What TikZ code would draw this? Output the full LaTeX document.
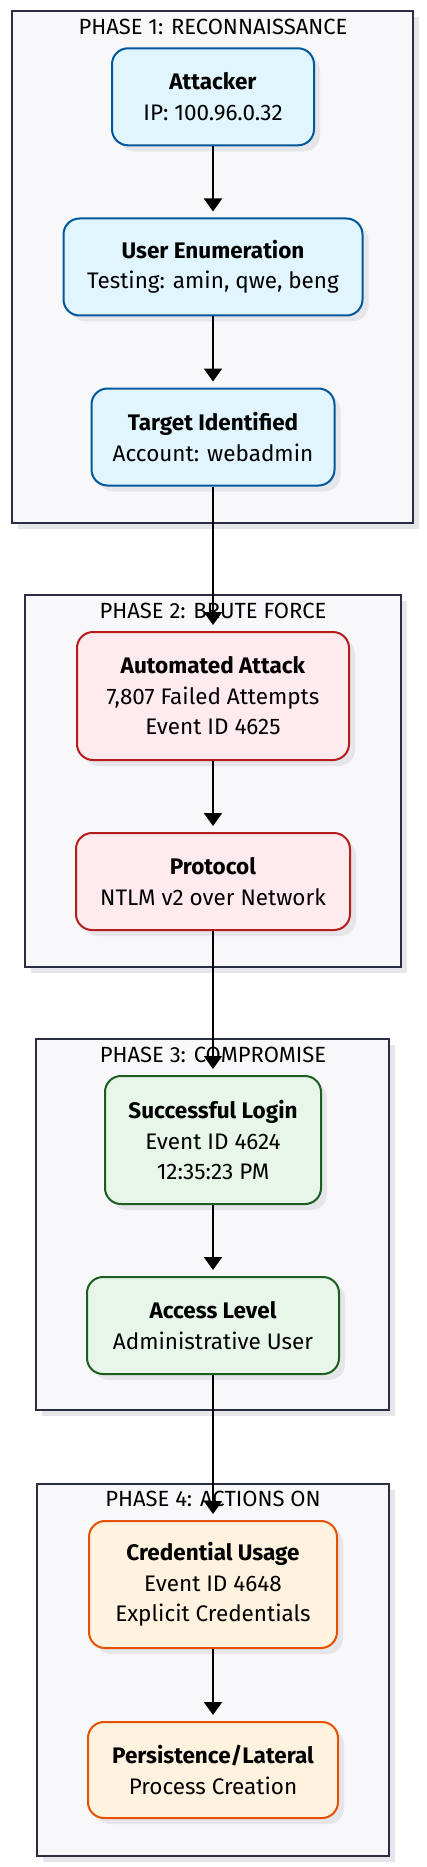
\documentclass[tikz,border=0pt]{standalone}
\usepackage{fontspec}
\setmainfont{Fira Sans}
\usetikzlibrary{arrows.meta}
\definecolor{frameedge}{HTML}{2B2D42}
\definecolor{framefill}{HTML}{F8F8FB}
\definecolor{shadowc}{HTML}{E6E6EA}
\definecolor{bluefill}{HTML}{E1F5FE}
\definecolor{blueedge}{HTML}{01579B}
\definecolor{redfill}{HTML}{FFEBEE}
\definecolor{rededge}{HTML}{B71C1C}
\definecolor{greenfill}{HTML}{E8F5E9}
\definecolor{greenedge}{HTML}{1B5E20}
\definecolor{orangefill}{HTML}{FFF3E0}
\definecolor{orangeedge}{HTML}{E65100}
\tikzset{
  x=1pt, y=-1pt,
  phaseframe/.style={draw=frameedge, fill=framefill, line width=2pt},
  phaseshadow/.style={fill=shadowc, draw=none},
  phasetitle/.style={font=\fontsize{22}{24}\selectfont, text=black, inner sep=0pt},
  box/.style={rectangle, rounded corners=16pt, line width=2pt, align=center,
    font=\fontsize{22.5}{30.5}\selectfont, inner sep=0pt},
  bluebox/.style={box, draw=blueedge, fill=bluefill},
  redbox/.style={box, draw=rededge, fill=redfill},
  greenbox/.style={box, draw=greenedge, fill=greenfill},
  orangebox/.style={box, draw=orangeedge, fill=orangefill},
  flow/.style={line width=2pt, -{Triangle[width=18pt,length=13pt]}, shorten >=6pt},
}
\newcommand{\boxat}[6]{%
  \fill[shadowc, rounded corners=16pt] ({#1-#3/2+6},{#2-#4/2+6}) rectangle ({#1+#3/2+6},{#2+#4/2+6});
  \node[#5, minimum width=#3pt, minimum height=#4pt] (#6) at (#1,#2)}
\begin{document}
\begin{tikzpicture}
\useasboundingbox[fill=white] (0,0) rectangle (426,1867);
% frames
\fill[phaseshadow] (18,17) rectangle (419,529);
\draw[phaseframe] (12,11) rectangle (413,523);
\node[phasetitle] (t1) at (213,27) {PHASE 1: RECONNAISSANCE};
\fill[phaseshadow] (31,601) rectangle (407,973);
\draw[phaseframe] (25,595) rectangle (401,967);
\node[phasetitle] (t2) at (213,611) {PHASE 2: BRUTE FORCE};
\fill[phaseshadow] (42,1045) rectangle (395,1416);
\draw[phaseframe] (36,1039) rectangle (389,1410);
\node[phasetitle] (t3) at (213,1055) {PHASE 3: COMPROMISE};
\fill[phaseshadow] (43,1490) rectangle (395,1862);
\draw[phaseframe] (37,1484) rectangle (389,1856);
\node[phasetitle] (t4) at (213,1499) {PHASE 4: ACTIONS ON};
% nodes
\boxat{213}{96.8}{202}{97}{bluebox}{a} {\textbf{Attacker}\\IP: 100.96.0.32};
\boxat{213}{267}{299}{97}{bluebox}{b} {\textbf{User Enumeration}\\Testing: amin, qwe, beng};
\boxat{213}{437}{243}{97}{bluebox}{c} {\textbf{Target Identified}\\Account: webadmin};
\boxat{213}{696}{272}{128}{redbox}{d} {\textbf{Automated Attack}\\7,807 Failed Attempts\\Event ID 4625};
\boxat{213}{881.5}{274}{97}{redbox}{e} {\textbf{Protocol}\\NTLM v2 over Network};
\boxat{213}{1140}{216}{128}{greenbox}{f} {\textbf{Successful Login}\\Event ID 4624\\12:35:23 PM};
\boxat{213}{1325.5}{252}{97}{greenbox}{g} {\textbf{Access Level}\\Administrative User};
\boxat{213}{1584.5}{248}{127}{orangebox}{h} {\textbf{Credential Usage}\\Event ID 4648\\Explicit Credentials};
\boxat{213}{1770}{250}{96}{orangebox}{i} {\textbf{Persistence/Lateral}\\Process Creation};
% connectors
\draw[flow] (a) -- (b);
\draw[flow] (b) -- (c);
\draw[flow] (c) -- (d);
\draw[flow] (d) -- (e);
\draw[flow] (e) -- (f);
\draw[flow] (f) -- (g);
\draw[flow] (g) -- (h);
\draw[flow] (h) -- (i);
\end{tikzpicture}
\end{document}
